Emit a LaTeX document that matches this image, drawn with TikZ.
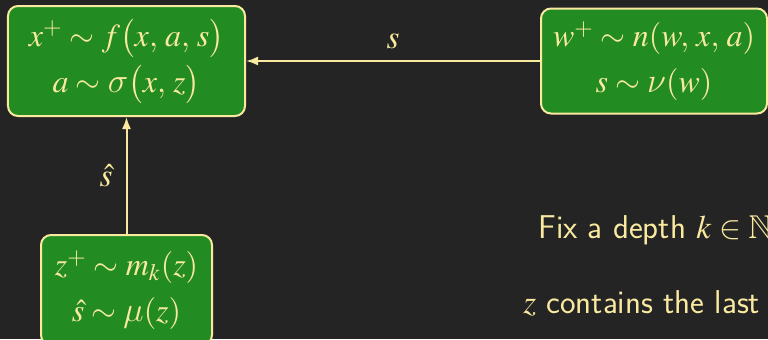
\documentclass[tikz,border=0pt]{standalone}
\usepackage{mathptmx}
\usepackage{amssymb}
\usetikzlibrary{arrows.meta}
% italic greek letters
\DeclareSymbolFont{cmgreek}{OML}{cmm}{m}{it}
\DeclareMathSymbol{\sigma}{\mathord}{cmgreek}{"1B}
\DeclareMathSymbol{\nu}{\mathord}{cmgreek}{"17}
\DeclareMathSymbol{\mu}{\mathord}{cmgreek}{"16}
\definecolor{slidebg}{RGB}{36,36,36}
\definecolor{boxgreen}{RGB}{34,139,34}
\definecolor{cream}{RGB}{250,234,160}
\tikzset{
  eqbox/.style={draw=cream, line width=1pt, fill=boxgreen, rounded corners=5pt,
    text=cream, align=center, inner sep=0pt, font=\fontsize{16}{23}\selectfont},
  flow/.style={draw=cream, line width=1pt, -{Latex[length=6pt,width=4.5pt]}},
  lbl/.style={text=cream, inner sep=0pt, font=\fontsize{16.5}{18}\selectfont},
}
\begin{document}
\begin{tikzpicture}[x=0.5pt,y=-0.5pt]
    \fill[slidebg] (0,0) rectangle (768,339);
    \useasboundingbox (0,0) rectangle (768,339);
    % the three boxes
    \node[eqbox, minimum width=118.5pt, minimum height=55pt] (agent) at (126.5,61)
        {$x^+ \sim f\bigl(x,\, a,\, s\bigr)$\\ $a \sim \sigma\bigl(x,\, z\bigr)$};
    \node[eqbox, minimum width=113pt, minimum height=52.5pt] (env) at (654,61)
        {$w^+ \sim n(w,\, x,\, a)$\\ $s \sim \nu(w)$\hspace{19pt}};
    \node[eqbox, minimum width=85.5pt, minimum height=55pt] (mem) at (126.5,290)
        {$z^+ \sim m_k(z)$\\ $\hat{s} \sim \mu(z)$};
    % signals
    \draw[flow] (env.west) -- (agent.east) node[lbl, midway, above=5.5pt] {$s$};
    \draw[flow] (mem.north) -- (agent.south) node[lbl, midway, left=6.5pt] {$\hat{s}$};
    % text on the right
    \node[lbl, anchor=base west] (depth) at (538,238) {\sffamily Fix a depth $k \in \mathbb{N}$};
    \node[lbl, anchor=base west] (hist) at (523,313) {\sffamily $z$ contains the last};
\end{tikzpicture}
\end{document}
